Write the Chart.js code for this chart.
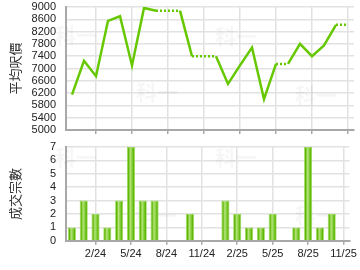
<!DOCTYPE html>
<html>
<head>
<meta charset="utf-8">
<script src="https://cdn.jsdelivr.net/npm/chart.js@4.4.0/dist/chart.umd.min.js"></script>
<style>
  html, body { margin: 0; padding: 0; background: #fff; }
  #wrap { position: relative; width: 360px; height: 270px; overflow: hidden; }
  #priceChart { position: absolute; left: 0; top: 0; }
  #countChart { position: absolute; left: 0; top: 135px; }
</style>
</head>
<body>
<div id="wrap">
  <canvas id="priceChart" width="360" height="137"></canvas>
  <canvas id="countChart" width="360" height="135"></canvas>
</div>
<script>
// Monthly data, 12/23 - 11/25
const months = ['12/23', '1/24', '2/24', '3/24', '4/24', '5/24', '6/24', '7/24', '8/24', '9/24', '10/24', '11/24',
                '12/24', '1/25', '2/25', '3/25', '4/25', '5/25', '6/25', '7/25', '8/25', '9/25', '10/25', '11/25'];
// average price per sq ft (months without deals carry the last value)
const avgPrice = [6150, 7250, 6750, 8550, 8700, 7100, 8970, 8880, 8880, 8880, 7400, 7400,
                  7400, 6500, 7100, 7680, 6000, 7150, 7150, 7800, 7400, 7750, 8420, 8420];
// number of transactions
const dealCount = [1, 3, 2, 1, 3, 7, 3, 3, 0, 0, 2, 0,
                   0, 3, 2, 1, 1, 2, 0, 1, 7, 1, 2, 0];
const priceTicks = [5000, 5400, 5800, 6200, 6600, 7000, 7400, 7800, 8200, 8600, 9000];
const countTicks = [0, 1, 2, 3, 4, 5, 6, 7];

const FONT = 'Liberation Sans, Arial, sans-serif';
const CJK = '"Noto Sans CJK TC", "Noto Sans CJK SC", sans-serif';
const GRID = '#e2e2e2';
const AXIS = '#a8a8a8';
const NONE = 'rgba(0,0,0,0)';

// only every 3rd month gets a label and a grid line
const showMonth = i => i % 3 === 2;

// faint watermark behind the plot
function watermark(spots) {
  return {
    id: 'watermark',
    beforeDatasetsDraw(chart) {
      const c = chart.ctx;
      c.save();
      c.font = 'bold 21px ' + CJK;
      c.fillStyle = 'rgba(0,0,0,0.035)';
      c.textAlign = 'center';
      c.textBaseline = 'middle';
      spots.forEach(p => c.fillText('科一', p[0], p[1]));
      c.restore();
    }
  };
}

const xBase = {
  type: 'category',
  offset: true,
  grid: {
    offset: false,
    color: ctx => showMonth(ctx.index) ? GRID : NONE,
    tickColor: ctx => showMonth(ctx.index) ? AXIS : NONE,
    tickLength: 4,
    lineWidth: 1.5
  },
  border: { color: AXIS, width: 2 }
};

// y axis: invisible 10px tick marks give the label gap without extra top padding
function yAxis(min, max, values, title) {
  return {
    min: min,
    max: max,
    afterBuildTicks: s => { s.ticks = values.map(v => ({ value: v })); },
    afterFit: s => { s.width = 66; },
    ticks: {
      autoSkip: false,
      color: '#222',
      font: { family: FONT, size: 11 },
      padding: 0,
      callback: v => String(v)
    },
    grid: { color: GRID, lineWidth: 1.5, tickLength: 10, tickColor: NONE },
    border: { color: AXIS, width: 2 },
    title: {
      display: true,
      text: title,
      color: '#333',
      font: { family: CJK, size: 13 },
      padding: { top: 7, bottom: 0 }
    }
  };
}

// ---- average price line ----
new Chart(document.getElementById('priceChart'), {
  type: 'line',
  data: {
    labels: months,
    datasets: [{
      data: avgPrice,
      borderColor: '#66c800',
      borderWidth: 2.5,
      pointRadius: 0,
      tension: 0,
      segment: {
        borderDash: ctx => dealCount[ctx.p1DataIndex] === 0 ? [2, 2] : undefined
      }
    }]
  },
  options: {
    responsive: false,
    animation: false,
    layout: { padding: { left: 0, right: 6, top: 7, bottom: 3 } },
    plugins: { legend: { display: false }, tooltip: { enabled: false } },
    scales: {
      x: Object.assign({}, xBase, { ticks: { display: false, autoSkip: false } }),
      y: yAxis(5000, 9000, priceTicks, '平均呎價')
    }
  },
  plugins: [watermark([[76, 35], [157, 92], [236, 36], [316, 95]])]
});

// ---- transaction count bars ----
function barFill(ctx) {
  const chart = ctx.chart;
  const x = chart.scales.x ? chart.scales.x.getPixelForValue(ctx.dataIndex) : null;
  if (x === null || isNaN(x)) return '#6cc010';
  const g = chart.ctx.createLinearGradient(x - 4, 0, x + 4, 0);
  g.addColorStop(0, '#86d33a');
  g.addColorStop(0.18, '#5cb400');
  g.addColorStop(0.42, '#b4e47a');
  g.addColorStop(0.62, '#8ad244');
  g.addColorStop(0.85, '#5cb400');
  g.addColorStop(1, '#7cc82c');
  return g;
}

new Chart(document.getElementById('countChart'), {
  type: 'bar',
  data: {
    labels: months,
    datasets: [{
      data: dealCount,
      backgroundColor: barFill,
      borderColor: '#8fd84a',
      borderWidth: 0.8,
      barPercentage: 0.68,
      categoryPercentage: 1
    }]
  },
  options: {
    responsive: false,
    animation: false,
    layout: { padding: { left: 0, right: 6, top: 12, bottom: 6 } },
    plugins: { legend: { display: false }, tooltip: { enabled: false } },
    scales: {
      x: Object.assign({}, xBase, {
        ticks: {
          autoSkip: false,
          maxRotation: 0,
          color: '#222',
          font: { family: FONT, size: 11 },
          padding: 3,
          callback: (v, i) => showMonth(i) ? months[i] : ''
        }
      }),
      y: yAxis(0, 7, countTicks, '成交宗數')
    }
  },
  plugins: [watermark([[76, 22], [156, 80], [236, 22], [316, 80]])]
});
</script>
</body>
</html>
